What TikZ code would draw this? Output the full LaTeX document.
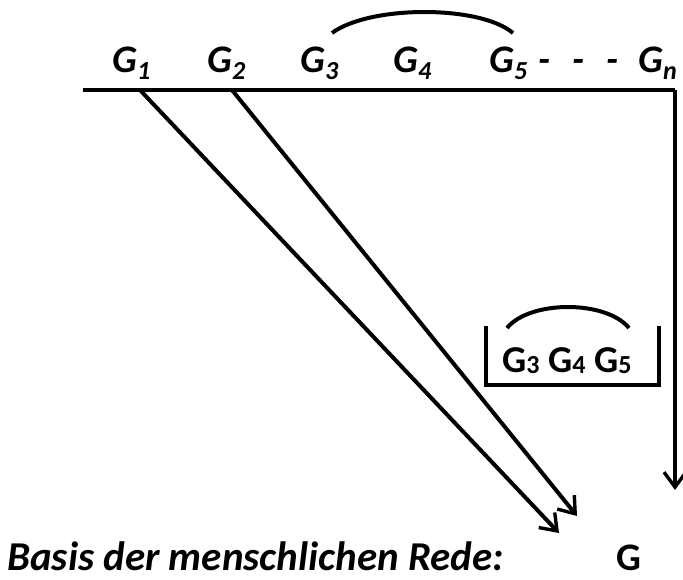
\documentclass[tikz,border=0pt]{standalone}
\usepackage{fontspec}
\setmainfont{Carlito}
\usetikzlibrary{arrows.meta}
\newcommand{\Gsub}[1]{G\raisebox{-0.18em}{\fontsize{26}{26}\selectfont #1}}
\newcommand{\Gbox}[1]{G\raisebox{-0.04em}{\fontsize{26}{26}\selectfont #1}}
\tikzset{
  ln/.style={line width=4pt},
  arr/.style={ln, -{Straight Barb[length=15pt,width=22pt,line width=3.4pt]}},
  topg/.style={anchor=base west, inner sep=0pt, font=\fontsize{39}{39}\selectfont\bfseries\itshape},
  boxg/.style={anchor=base west, inner sep=0pt, font=\fontsize{38}{38}\selectfont\bfseries},
}
\begin{document}
\begin{tikzpicture}[x=1pt,y=-1pt]
\useasboundingbox (0,0) rectangle (683,579);
% top labels
\node[topg] (g1) at (112,72) {\Gsub{1}};
\node[topg] (g2) at (207,72) {\Gsub{2}};
\node[topg] (g3) at (300,72) {\Gsub{3}};
\node[topg] (g4) at (393,72) {\Gsub{4}};
\node[topg] (g5) at (489,72) {\Gsub{5}};
\node[topg] (dd) at (538,72) {-\hspace{22pt}-\hspace{22pt}-};
\node[topg] (gn) at (638,72) {\Gsub{n}};
% arc over G3..G5
\coordinate (c3) at (332,33);
\coordinate (c5) at (513,33);
\draw[ln] (c3) .. controls (370,5) and (480,5) .. (c5);
% main line
\coordinate (L) at (83,90);
\coordinate (R) at (675,90);
\coordinate (s1) at (140,90);
\coordinate (s2) at (232,90);
\coordinate (e1) at (559,533);
\coordinate (e2) at (577,516);
\coordinate (eR) at (675,490);
\draw[ln] (L) -- (R);
\draw[arr] (R) -- (eR);
\draw[arr] (s1) -- (e1);
\draw[arr] (s2) -- (e2);
% box
\coordinate (bl) at (486,326);
\coordinate (br) at (659,326);
\draw[ln] (bl) -- (486,385) -- (659,385) -- (br);
\node[boxg] (gg) at (502,372) {\Gbox{3} \Gbox{4} \Gbox{5}};
\coordinate (k3) at (507,328);
\coordinate (k5) at (629,328);
\draw[ln] (k3) .. controls (530,300) and (606,300) .. (k5);
% bottom
\node[anchor=base west, inner sep=0pt, font=\fontsize{41}{41}\selectfont\bfseries\itshape] (basis) at (7,570) {Basis der menschlichen Rede:};
\node[anchor=base west, inner sep=0pt, font=\fontsize{39}{39}\selectfont\bfseries] (G) at (616,570) {G};
\end{tikzpicture}
\end{document}
